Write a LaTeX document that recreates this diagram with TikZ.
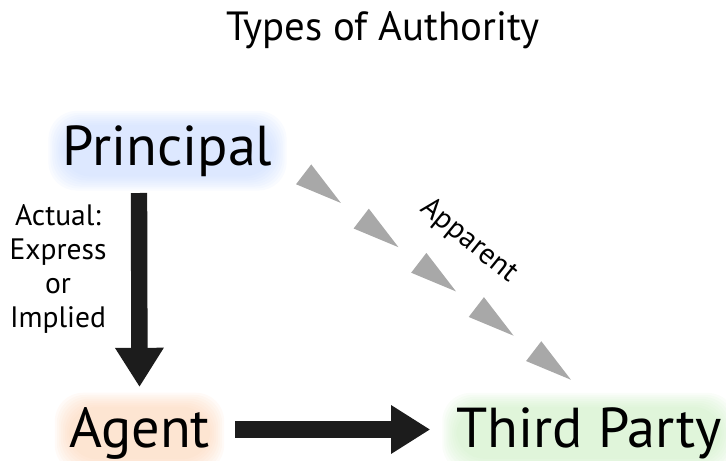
\documentclass[tikz,border=0pt]{standalone}
\usepackage{fontspec}
\setmainfont{PT Sans}
\usetikzlibrary{arrows.meta,calc,decorations.markings,backgrounds}

\definecolor{apparentgray}{RGB}{168,168,168}
\definecolor{arrowblack}{RGB}{28,28,28}
\definecolor{glowblue}{RGB}{190,212,255}
\definecolor{gloworange}{RGB}{252,205,170}
\definecolor{glowgreen}{RGB}{196,236,186}

% one gray triangle of the dashed arrow
\newcommand\apptri{\fill[apparentgray] (0,0) -- (-47,12.5) -- (-47,-12.5) -- cycle;}

% soft halo behind a name
\newcommand\halo[2]{%
  \foreach \g in {0,...,7}
    \fill[#2, opacity=0.09, rounded corners=20]
      ([shift={(-2*\g,-2*\g)}]#1.north west) rectangle ([shift={(2*\g,2*\g)}]#1.south east);
}

\tikzset{
  party/.style={inner sep=0pt, anchor=base, font=\fontsize{40}{46}\selectfont},
  fat arrow/.style={line width=0.41cm, draw=arrowblack, -{Triangle[length=0.98cm,width=1.15cm]}},
  apparent/.style={decorate, decoration={markings,
      mark=at position 0.1394 with {\apptri},
      mark=at position 0.3545 with {\apptri},
      mark=at position 0.5696 with {\apptri},
      mark=at position 0.7847 with {\apptri},
      mark=at position 0.9990 with {\apptri}}},
}

\begin{document}
\begin{tikzpicture}[x=0.025cm, y=-0.025cm]
\useasboundingbox (0,0) rectangle (726,461);

% -----------------------------
% Title
% -----------------------------
\node[inner sep=0pt, anchor=base, font=\fontsize{29}{34}\selectfont] (title) at (383,40) {Types of Authority};

% -----------------------------
% The three parties
% -----------------------------
\node[party] (principal) at (167.5,165) {Principal};
\node[party] (agent) at (139.5,447) {Agent};
\node[party] (third) at (589,447) {Third Party};

\begin{scope}[on background layer]
  \halo{principal}{glowblue}
  \halo{agent}{gloworange}
  \halo{third}{glowgreen}
\end{scope}

% -----------------------------
% Actual authority
% -----------------------------
\draw[fat arrow] ($(principal.base)+(-28.5,28)$) -- ($(agent.base)+(0,-60)$);
\node[inner sep=0pt, align=center, font=\fontsize{21}{24}\selectfont] (actual) at (58,269)
  {Actual:\\Express\\or\\Implied};

% agent deals with third party
\draw[fat arrow] ($(agent.base east)+(25,-17.5)$) -- ($(third.base west)+(-26,-17.5)$);

% -----------------------------
% Apparent authority
% -----------------------------
\path[apparent] ($(principal.base east)+(31,9.3)$) -- ($(third.base west)+(115,-67)$);
\node[inner sep=0pt, rotate=-39, font=\fontsize{21}{24}\selectfont] (apparent) at (469,241) {Apparent};

\end{tikzpicture}
\end{document}
